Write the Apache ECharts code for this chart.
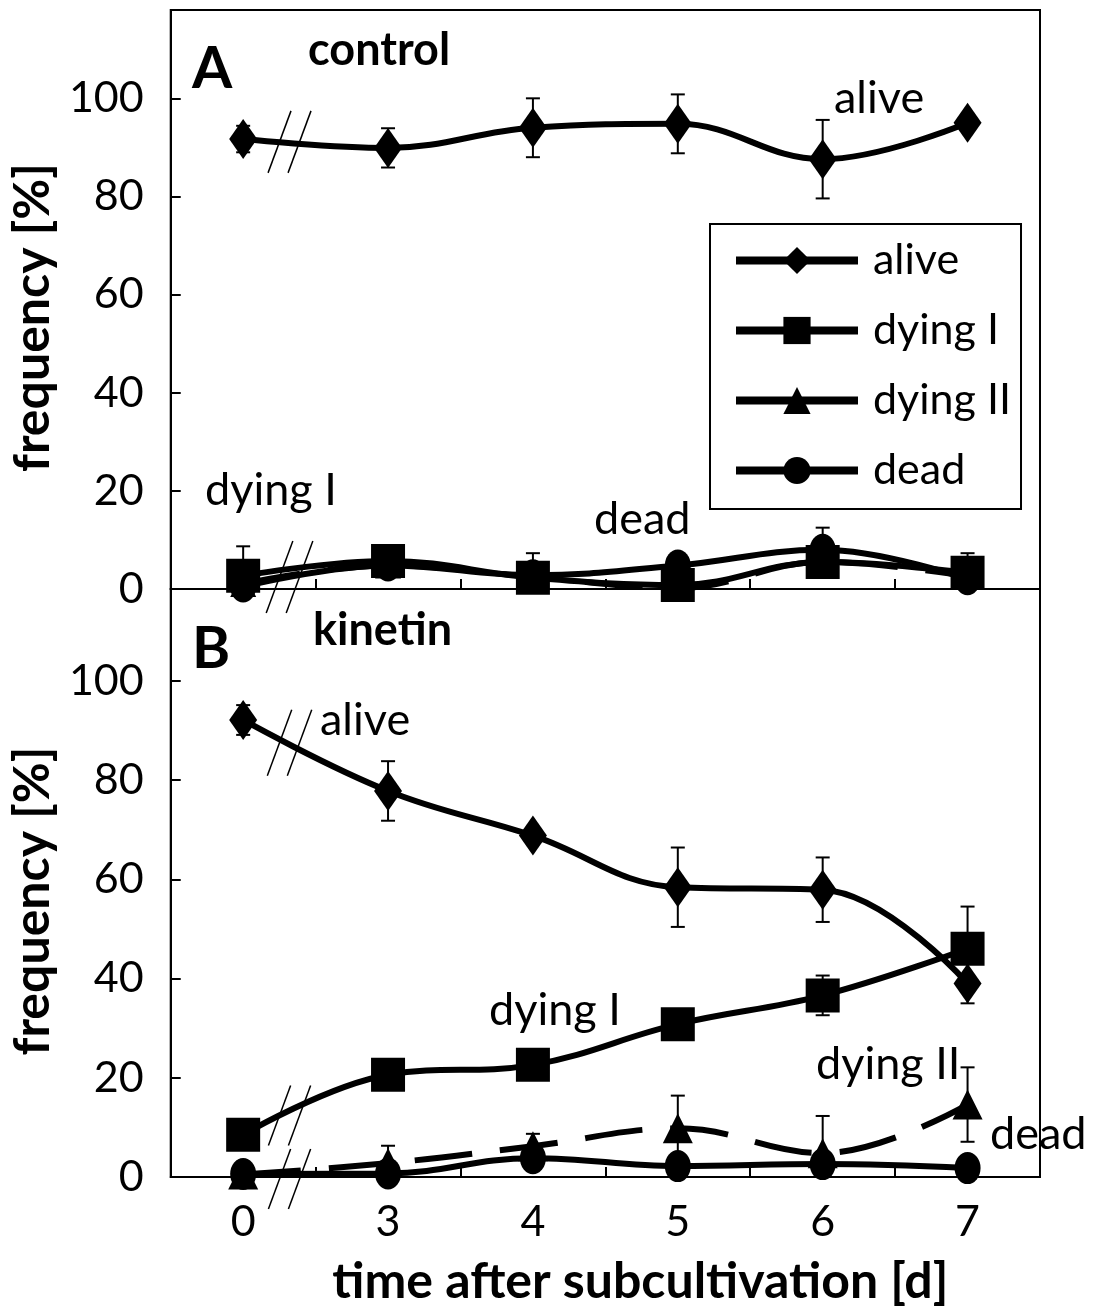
<!DOCTYPE html>
<html>
<head>
<meta charset="utf-8">
<script src="https://cdn.jsdelivr.net/npm/echarts@6/dist/echarts.min.js"></script>
<style>
  html, body { margin: 0; padding: 0; background: #fff; }
  #chart { width: 1097px; height: 1314px; }
</style>
</head>
<body>
<div id="chart"></div>
<script>
// time points (d)
const days = ['0', '3', '4', '5', '6', '7'];

// A: control
const ctrlAlive = [91.7, 89.9, 94.0, 94.8, 87.6, 95.0];
const ctrlAliveErr = [2.7, 4, 6, 6, 8, 1.5];
const ctrlDyingI = [2.7, 5.7, 2.3, 0.8, 5.5, 3.3];
const ctrlDyingIErr = [6, 2, 5, 1, 2, 4];
const ctrlDyingII = [1.0, 4.8, 2.5, 0.2, 5.5, 2.6];
const ctrlDyingIIErr = [0.5, 1, 1, 1, 1, 1];
const ctrlDead = [0.5, 4.8, 2.8, 4.8, 8.0, 2.0];
const ctrlDeadErr = [0.5, 1, 1, 1, 4.5, 1];

// B: kinetin
const kinAlive = [92.1, 77.8, 68.8, 58.4, 57.9, 39.0];
const kinAliveErr = [3, 6, 1.5, 8, 6.5, 4];
const kinDyingI = [8.5, 20.6, 22.6, 30.8, 36.6, 46.0];
const kinDyingIErr = [1, 2, 1, 1.5, 4, 8.5];
const kinDyingII = [0.5, 2.8, 6.2, 9.8, 4.8, 14.6];
const kinDyingIIErr = [1, 3.5, 2.5, 6.6, 7.5, 7.5];
const kinDead = [0.6, 0.7, 3.8, 2.2, 2.6, 1.8];
const kinDeadErr = [2.5, 0.5, 1, 0.5, 1, 0.5];

const FONT = 'Lato';

const chart = echarts.init(document.getElementById('chart'), null, { renderer: 'canvas' });

// line + marker series
function lineSeries(name, data, idx, symbol, size, dashed) {
  return {
    name: name,
    type: 'line',
    xAxisIndex: idx,
    yAxisIndex: idx,
    data: data,
    smooth: 0.4,
    symbol: symbol,
    symbolSize: size,
    z: 3,
    itemStyle: { color: '#000' },
    lineStyle: { color: '#000', width: 6, type: dashed ? [58, 28] : 'solid' }
  };
}

// error bars drawn through the axes
function errSeries(vals, errs, idx) {
  return {
    type: 'custom',
    xAxisIndex: idx,
    yAxisIndex: idx,
    z: 2,
    silent: true,
    data: vals.map((v, i) => [i, v, errs[i]]),
    encode: { x: 0, y: 1 },
    renderItem: function (params, api) {
      const x = api.value(0), y = api.value(1), e = api.value(2);
      const top = api.coord([x, y + e]);
      const bot = api.coord([x, Math.max(0, y - e)]);
      const w = 7;
      const st = { stroke: '#000', lineWidth: 2 };
      return {
        type: 'group',
        children: [
          { type: 'line', shape: { x1: top[0], y1: top[1], x2: bot[0], y2: bot[1] }, style: st },
          { type: 'line', shape: { x1: top[0] - w, y1: top[1], x2: top[0] + w, y2: top[1] }, style: st },
          { type: 'line', shape: { x1: bot[0] - w, y1: bot[1], x2: bot[0] + w, y2: bot[1] }, style: st }
        ]
      };
    }
  };
}

function xAxis(idx, withLabels) {
  return {
    type: 'category',
    gridIndex: idx,
    data: days,
    boundaryGap: true,
    axisLine: { lineStyle: { color: '#000', width: 2 } },
    axisTick: { show: true, inside: true, length: 10, lineStyle: { color: '#000', width: 2 } },
    axisLabel: { show: withLabels, color: '#000', fontFamily: FONT, fontSize: 43, margin: 24 },
    name: withLabels ? 'time after subcultivation [d]' : '',
    nameLocation: 'middle',
    nameGap: 80,
    nameTextStyle: { color: '#000', fontFamily: FONT, fontSize: 50, fontWeight: 'bold', padding: [0, 0, 0, 70] },
    splitLine: { show: false }
  };
}

function yAxis(idx, max) {
  return {
    type: 'value',
    gridIndex: idx,
    min: 0,
    max: max,
    interval: 20,
    axisLine: { show: true, lineStyle: { color: '#000', width: 2 } },
    axisTick: { show: true, inside: true, length: 10, lineStyle: { color: '#000', width: 2 } },
    axisLabel: { color: '#000', fontFamily: FONT, fontSize: 43, margin: 27, showMaxLabel: false },
    splitLine: { show: false },
    name: 'frequency [%]',
    nameLocation: 'middle',
    nameGap: 106,
    nameTextStyle: { color: '#000', fontFamily: FONT, fontSize: 50, fontWeight: 'bold', padding: [0, 0, 0, -36] }
  };
}

const txt = (x, y, s, size, bold) => ({
  type: 'text', left: x, top: y, z: 10,
  style: { text: s, fill: '#000', font: (bold ? 'bold ' : '') + size + 'px ' + FONT }
});

const option = {
  backgroundColor: '#fff',
  animation: false,
  grid: [
    { left: 168, top: 10, width: 872, height: 579, show: true, borderColor: '#000', borderWidth: 2, containLabel: false },
    { left: 168, top: 589, width: 872, height: 588, show: true, borderColor: '#000', borderWidth: 2, containLabel: false }
  ],
  xAxis: [xAxis(0, false), xAxis(1, true)],
  yAxis: [yAxis(0, 118), yAxis(1, 118.5)],
  legend: {
    orient: 'vertical',
    left: 710,
    top: 224,
    padding: [15, 10, 17, 22],
    itemWidth: 122,
    itemHeight: 34,
    itemGap: 27,
    borderColor: '#000',
    borderWidth: 2,
    backgroundColor: '#fff',
    textStyle: { color: '#000', fontFamily: FONT, fontSize: 43, padding: [0, 0, 0, 10] },
    lineStyle: { type: 'solid', width: 8 },
    data: ['alive', 'dying I', 'dying II', 'dead']
  },
  series: [
    errSeries(ctrlAlive, ctrlAliveErr, 0),
    errSeries(ctrlDyingI, ctrlDyingIErr, 0),
    errSeries(ctrlDyingII, ctrlDyingIIErr, 0),
    errSeries(ctrlDead, ctrlDeadErr, 0),
    lineSeries('alive', ctrlAlive, 0, 'diamond', [28, 40]),
    lineSeries('dead', ctrlDead, 0, 'circle', [26, 32]),
    lineSeries('dying II', ctrlDyingII, 0, 'triangle', 26, true),
    lineSeries('dying I', ctrlDyingI, 0, 'rect', 34),

    errSeries(kinAlive, kinAliveErr, 1),
    errSeries(kinDyingI, kinDyingIErr, 1),
    errSeries(kinDyingII, kinDyingIIErr, 1),
    errSeries(kinDead, kinDeadErr, 1),
    lineSeries('alive', kinAlive, 1, 'diamond', [28, 40]),
    lineSeries('dying I', kinDyingI, 1, 'rect', 34),
    lineSeries('dying II', kinDyingII, 1, 'triangle', 30, true),
    lineSeries('dead', kinDead, 1, 'circle', [26, 32])
  ]
};

chart.setOption(option);

// axis-break slashes, placed with the grid's own scales
function breakMark(gridIndex, frac, v0, v1, h, dy) {
  const a = chart.convertToPixel({ gridIndex: gridIndex }, [0, v0]);
  const b = chart.convertToPixel({ gridIndex: gridIndex }, [1, v1]);
  const cx = a[0] + frac * (b[0] - a[0]);
  const cy = a[1] + frac * (b[1] - a[1]) + (dy || 0);
  const s = h * 0.37, gap = 10;
  const st = { stroke: '#000', lineWidth: 1.5 };
  return {
    type: 'group', z: 20, silent: true,
    children: [
      { type: 'polygon', shape: { points: [
        [cx - gap - s, cy + h], [cx - gap + s, cy - h], [cx + gap + s, cy - h], [cx + gap - s, cy + h]
      ] }, style: { fill: '#fff' } },
      { type: 'line', shape: { x1: cx - gap - s, y1: cy + h, x2: cx - gap + s, y2: cy - h }, style: st },
      { type: 'line', shape: { x1: cx + gap - s, y1: cy + h, x2: cx + gap + s, y2: cy - h }, style: st }
    ]
  };
}

const f = 0.32;
chart.setOption({
  graphic: [
    breakMark(0, f, ctrlAlive[0], ctrlAlive[1], 31, 0),
    breakMark(0, f, 0, 0, 36, -12),
    breakMark(1, f, kinAlive[0], kinAlive[1], 33, 0),
    breakMark(1, f, kinDyingI[0], kinDyingI[1], 30, 0),
    breakMark(1, f, 0, 0, 30, 2),

    txt(192, 40, 'A', 58, true),
    txt(308, 28, 'control', 45, true),
    txt(834, 76, 'alive', 45),
    txt(205, 468, 'dying I', 45),
    txt(594, 497, 'dead', 45),

    txt(192, 620, 'B', 58, true),
    txt(313, 608, 'kinetin', 45, true),
    txt(320, 698, 'alive', 45),
    txt(489, 988, 'dying I', 45),
    txt(816, 1042, 'dying II', 45),
    txt(990, 1112, 'dead', 45)
  ]
});
</script>
</body>
</html>
